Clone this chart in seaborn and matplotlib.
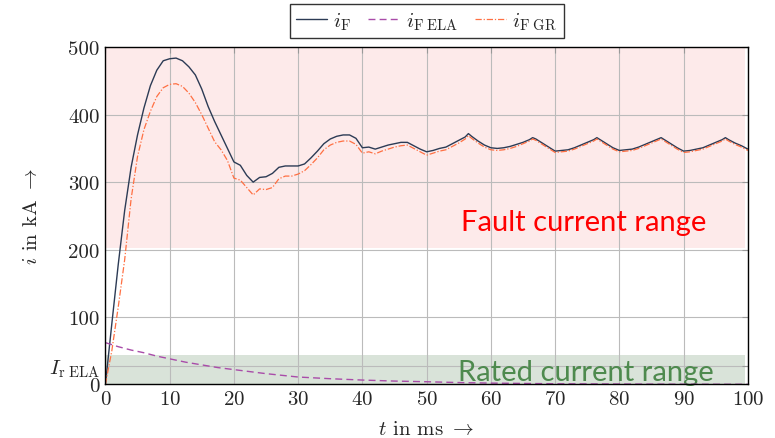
import matplotlib
matplotlib.use("Agg")
import matplotlib.pyplot as plt
import seaborn as sns

# time axis of the fault current curves (ms)
t_ms = [0, 1, 2, 3, 4, 5, 6, 7, 8, 9, 10, 11, 12, 13, 14, 15, 16, 17, 18, 19,
        20, 21, 22, 23, 24, 25, 26, 27, 28, 29, 30, 31, 32, 33, 34, 35, 36, 37, 38, 39,
        40, 41, 42, 43, 44, 45, 46, 47, 48, 49, 50, 51, 52, 53, 54, 55, 56, 56.5, 57, 58, 59,
        60, 61, 62, 63, 64, 65, 66, 66.5, 67, 68, 69, 70, 71, 72, 73, 74, 75, 76, 76.5, 77, 78, 79,
        80, 81, 82, 83, 84, 85, 86, 86.5, 87, 88, 89, 90, 91, 92, 93, 94, 95, 96, 96.5, 97, 98, 99, 100]

# total fault current i_F (kA)
i_f = [0, 90, 178, 258, 322, 370, 410, 443, 466, 480, 483, 484, 480, 471, 459, 438, 412, 390, 370, 350,
       330, 325, 310, 300, 307, 308, 313, 322, 324, 324, 324, 327, 336, 346, 357, 364, 368, 370, 370, 365,
       351, 352, 349, 352, 355, 357, 359, 359, 354, 349, 345, 347, 350, 352, 357, 362, 367, 372, 368, 361, 355,
       351, 350, 351, 353, 356, 359, 363, 366, 364, 358, 352, 346, 347, 348, 351, 355, 359, 363, 366, 363, 357, 351,
       347, 348, 349, 352, 356, 360, 364, 366, 363, 357, 351, 346, 347, 349, 351, 355, 359, 363, 366, 363, 358, 354, 349]

# grid contribution i_F GR (kA)
i_gr = [0, 50, 115, 185, 275, 338, 378, 405, 427, 440, 445, 446, 442, 432, 418, 400, 380, 360, 348, 332,
        306, 303, 292, 281, 290, 289, 292, 305, 309, 309, 312, 317, 326, 336, 348, 355, 359, 361, 361, 356,
        343, 345, 342, 346, 349, 352, 354, 355, 350, 345, 340, 343, 346, 348, 353, 358, 364, 369, 365, 358, 352,
        348, 347, 348, 350, 353, 357, 361, 364, 362, 356, 350, 344, 345, 346, 349, 353, 357, 361, 364, 361, 355, 349,
        345, 346, 347, 350, 354, 358, 362, 364, 361, 355, 349, 344, 345, 347, 349, 353, 357, 361, 364, 361, 356, 352, 347]

# contribution of the ELA (kA)
t_ela = [0, 2, 4, 6, 8, 10, 12.5, 15, 17.5, 20, 25, 30, 35, 40, 45, 50, 55, 60, 65, 70, 80, 90, 100]
i_ela = [62, 56, 51, 47, 42, 38, 33, 29, 25, 22, 16, 11, 8.5, 6.5, 5, 4, 2.8, 2, 1.5, 1, 0.6, 0.3, 0.2]

x_ticks = [0, 10, 20, 30, 40, 50, 60, 70, 80, 90, 100]
y_ticks = [0, 28, 100, 200, 300, 400, 500]
y_tick_labels = ["0", r"$I_{\mathrm{r\ ELA}}$", "100", "200", "300", "400", "500"]

fault_range = (203, 500)
rated_range = (0, 44)

sns.set_style("white")
plt.rcParams["font.family"] = "serif"
plt.rcParams["font.serif"] = ["cmr10", "DejaVu Serif"]
plt.rcParams["mathtext.fontset"] = "cm"
plt.rcParams["axes.formatter.use_mathtext"] = True
plt.rcParams["axes.unicode_minus"] = False

fig = plt.figure(figsize=(7.75, 4.39), dpi=100)
ax = fig.add_axes([0.136, 0.122, 0.829, 0.768])

# coloured ranges
ax.fill_between([0, 99.5], fault_range[0], fault_range[1], color="#fdeaea", lw=0, zorder=0.1)
ax.fill_between([0, 99.5], rated_range[0], rated_range[1], color="#d9e3d9", lw=0, zorder=0.1)

sns.lineplot(x=t_ms, y=i_f, ax=ax, color="#2c3b55", lw=1.0, label=r"$i_{\mathrm{F}}$", zorder=3)
sns.lineplot(x=t_ela, y=i_ela, ax=ax, color="#a94ca9", lw=1.0, label=r"$i_{\mathrm{F\ ELA}}$",
             linestyle=(0, (5, 3)), zorder=3)
sns.lineplot(x=t_ms, y=i_gr, ax=ax, color="#ff7043", lw=0.9, label=r"$i_{\mathrm{F\ GR}}$",
             linestyle=(0, (5, 1.5, 1, 1.5)), zorder=3)

ax.set_xlim(0, 100)
ax.set_ylim(0, 500)
ax.set_xticks(x_ticks)
ax.set_yticks(y_ticks)
ax.set_yticklabels(y_tick_labels)
ax.tick_params(axis="both", which="both", direction="in", length=4, color="#999999",
               labelsize=15, top=True, right=True, pad=4)
ax.grid(True, color="#bbbbbb", lw=0.8)
for line in ax.get_xgridlines() + ax.get_ygridlines():
    line.set_zorder(0.5)
for s in ax.spines.values():
    s.set_color("black")
    s.set_linewidth(1.0)
    s.set_zorder(4)

ax.set_xlabel(r"$t$ in ms $\rightarrow$", fontsize=15, labelpad=9)
ax.set_ylabel(r"$i$ in kA $\rightarrow$", fontsize=15, labelpad=6)

ax.text(74.5, 229, "Fault current range", color="#ff0000", fontsize=21,
        family=["Lato", "DejaVu Sans"], ha="center", va="baseline")
ax.text(74.8, 6.5, "Rated current range", color="#4e8a4e", fontsize=21,
        family=["Lato", "DejaVu Sans"], ha="center", va="baseline", zorder=2)

leg = ax.legend(loc="lower center", bbox_to_anchor=(0.5, 1.028), ncol=3, frameon=True,
                fancybox=False, edgecolor="black", fontsize=15, handlelength=1.5,
                columnspacing=0.8, borderpad=0.3, handletextpad=0.3, borderaxespad=0)
leg.get_frame().set_linewidth(1.0)

fig.savefig("out.png", dpi=100)
